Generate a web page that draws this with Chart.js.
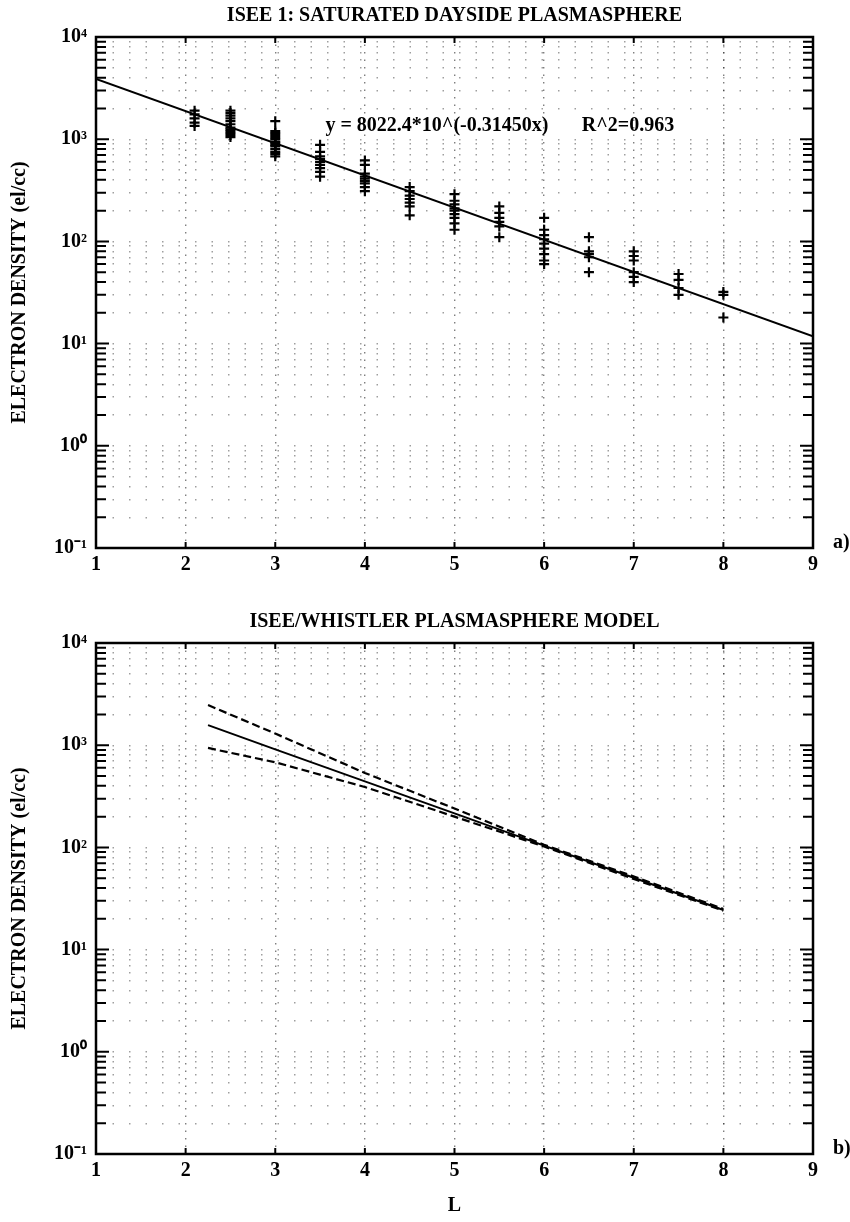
<!DOCTYPE html>
<html>
<head>
<meta charset="utf-8">
<title>ISEE plasmasphere density</title>
<script src="https://cdn.jsdelivr.net/npm/chart.js@4.4.1/dist/chart.umd.min.js"></script>
<style>
  html, body { margin: 0; padding: 0; background: #fff; }
  #wrap { position: relative; width: 850px; height: 1222px; }
  canvas { position: absolute; left: 0; }
  #top { top: 0; }
  #bottom { top: 590px; }
</style>
</head>
<body>
<div id="wrap">
  <canvas id="top" width="850" height="590"></canvas>
  <canvas id="bottom" width="850" height="632"></canvas>
</div>
<script>
// axis ticks
const lTicks = [1, 2, 3, 4, 5, 6, 7, 8, 9];
const decades = [0.1, 1, 10, 100, 1000, 10000];
const decadeLabels = ['10⁻¹', '10⁰', '10¹', '10²', '10³', '10⁴'];

// a) ISEE 1 saturated dayside densities (el/cc), one list per L shell
const isseL = [2.1, 2.5, 3, 3.5, 4, 4.5, 5, 5.5, 6, 6.5, 7, 7.5, 8];
const isseNe = [
  [1900, 1750, 1600, 1450, 1350],
  [1900, 1800, 1700, 1600, 1500, 1400, 1300, 1250, 1200, 1150, 1100, 1050],
  [1500, 1200, 1150, 1100, 1050, 1000, 950, 920, 880, 850, 800, 750, 720, 680],
  [880, 750, 680, 640, 600, 560, 520, 480, 430],
  [620, 560, 460, 430, 410, 390, 370, 340, 310],
  [340, 310, 280, 260, 240, 220, 180],
  [290, 250, 230, 210, 200, 185, 170, 150, 130],
  [220, 190, 170, 155, 140, 110],
  [170, 130, 115, 105, 95, 85, 75, 65, 60],
  [110, 80, 75, 70, 50],
  [80, 72, 65, 50, 45, 40],
  [48, 42, 35, 30],
  [32, 30, 18]
];

// fit y = 8022.4*10^(-0.31450x), end points
const fitL = [1, 9];
const fitNe = [3890, 11.8];

// b) ISEE/whistler model: mean curve and envelope
const modelL = [2.25, 3, 4, 5, 6, 7, 8];
const modelMid = [1570, 910, 443, 215, 104, 50.5, 24.4];
const modelUpper = [2470, 1300, 535, 240, 106, 52, 25];
const modelLower = [940, 680, 390, 200, 102, 49, 24];

const isseData = isseL.flatMap((l, i) => isseNe[i].map(n => ({ x: l, y: n })));
const pairs = (xs, ys) => xs.map((x, i) => ({ x: x, y: ys[i] }));

Chart.defaults.font.family = '"Liberation Serif", "Times New Roman", serif';
Chart.defaults.color = '#000';

const serif = size => ({ family: '"Liberation Serif", "Times New Roman", serif', size: size, weight: 'bold' });

// frame, inside tick marks, panel title and letter
const framePlugin = {
  id: 'frame',
  afterDatasetsDraw(chart, args, opts) {
    const { ctx, chartArea: a, scales: { x, y } } = chart;
    ctx.save();
    ctx.strokeStyle = '#000';
    ctx.lineWidth = 2;
    y.ticks.forEach(t => {
      const py = y.getPixelForValue(t.value);
      const len = t.major ? 13 : 10;
      ctx.beginPath();
      ctx.moveTo(a.left, py); ctx.lineTo(a.left + len, py);
      ctx.moveTo(a.right - len, py); ctx.lineTo(a.right, py);
      ctx.stroke();
    });
    x.ticks.forEach(t => {
      const px = x.getPixelForValue(t.value);
      ctx.beginPath();
      ctx.moveTo(px, a.bottom); ctx.lineTo(px, a.bottom - 6);
      ctx.moveTo(px, a.top); ctx.lineTo(px, a.top + 6);
      ctx.stroke();
    });
    ctx.lineWidth = 2.5;
    ctx.strokeRect(a.left, a.top, a.width, a.height);

    ctx.fillStyle = '#000';
    ctx.font = 'bold 20px "Liberation Serif"';
    ctx.textAlign = 'center';
    ctx.textBaseline = 'middle';
    ctx.fillText(opts.title, (a.left + a.right) / 2, a.top - 21);
    ctx.textAlign = 'left';
    ctx.textBaseline = 'alphabetic';
    ctx.fillText(opts.panel, a.right + 20, a.bottom);
    (opts.notes || []).forEach(n => {
      ctx.fillText(n.text, x.getPixelForValue(n.x), y.getPixelForValue(n.y));
    });
    ctx.restore();
  }
};

function makeOptions(o) {
  return {
    responsive: false,
    animation: false,
    layout: { padding: { left: 0, right: 37, top: o.padTop, bottom: 0 } },
    plugins: {
      legend: { display: false },
      tooltip: { enabled: false },
      frame: { title: o.title, panel: o.panel, notes: o.notes }
    },
    scales: {
      x: {
        type: 'linear',
        min: 1, max: 9,
        afterBuildTicks: s => { s.ticks = lTicks.map(v => ({ value: v })); },
        afterFit: s => { s.height = o.xHeight; },
        ticks: { font: serif(20), padding: 5, autoSkip: false },
        grid: {
          drawTicks: false,
          lineWidth: 1.4,
          color: c => (c.tick && c.tick.value > 1 && c.tick.value < 9) ? 'rgba(0,0,0,0.5)' : 'rgba(0,0,0,0)'
        },
        border: { display: false, dash: [1.5, 6] },
        title: { display: !!o.xTitle, text: o.xTitle || '', font: serif(20), padding: { top: 0, bottom: 4 } }
      },
      y: {
        type: 'logarithmic',
        min: 0.1, max: 10000,
        afterBuildTicks: s => {
          const ticks = [];
          decades.forEach((d, i) => {
            for (let m = 1; m <= 9; m++) {
              ticks.push({ value: d * m, major: m === 1 });
              if (i === decades.length - 1) break;
            }
          });
          s.ticks = ticks;
        },
        afterFit: s => { s.width = 96; },
        ticks: {
          font: serif(20),
          padding: 9,
          autoSkip: false,
          callback: v => {
            const i = decades.findIndex(d => Math.abs(d - v) < d * 1e-6);
            return i >= 0 ? decadeLabels[i] : '';
          }
        },
        grid: { drawTicks: false, lineWidth: 1.4, color: 'rgba(0,0,0,0.38)' },
        border: { display: false, dash: [1.5, 15] },
        title: { display: true, text: 'ELECTRON DENSITY (el/cc)', font: serif(20), padding: { top: 8, bottom: 0 } }
      }
    }
  };
}

new Chart(document.getElementById('top'), {
  type: 'scatter',
  data: {
    datasets: [
      {
        label: 'ISEE 1',
        data: isseData,
        pointStyle: 'cross',
        pointRadius: 5,
        borderColor: '#000',
        borderWidth: 2.2,
        showLine: false
      },
      {
        label: 'fit',
        data: pairs(fitL, fitNe),
        showLine: true,
        pointRadius: 0,
        borderColor: '#000',
        borderWidth: 2
      }
    ]
  },
  options: makeOptions({
    title: 'ISEE 1: SATURATED DAYSIDE PLASMASPHERE',
    panel: 'a)',
    padTop: 37,
    xHeight: 42,
    notes: [
      { text: 'y = 8022.4*10^(-0.31450x)', x: 3.56, y: 1200 },
      { text: 'R^2=0.963', x: 6.42, y: 1200 }
    ]
  }),
  plugins: [framePlugin]
});

new Chart(document.getElementById('bottom'), {
  type: 'scatter',
  data: {
    datasets: [
      { label: 'model', data: pairs(modelL, modelMid), showLine: true, pointRadius: 0, borderColor: '#000', borderWidth: 2 },
      { label: 'upper', data: pairs(modelL, modelUpper), showLine: true, pointRadius: 0, borderColor: '#000', borderWidth: 2.2, borderDash: [8, 4] },
      { label: 'lower', data: pairs(modelL, modelLower), showLine: true, pointRadius: 0, borderColor: '#000', borderWidth: 2.2, borderDash: [8, 4] }
    ]
  },
  options: makeOptions({
    title: 'ISEE/WHISTLER PLASMASPHERE MODEL',
    panel: 'b)',
    padTop: 53,
    xHeight: 68,
    xTitle: 'L'
  }),
  plugins: [framePlugin]
});
</script>
</body>
</html>
